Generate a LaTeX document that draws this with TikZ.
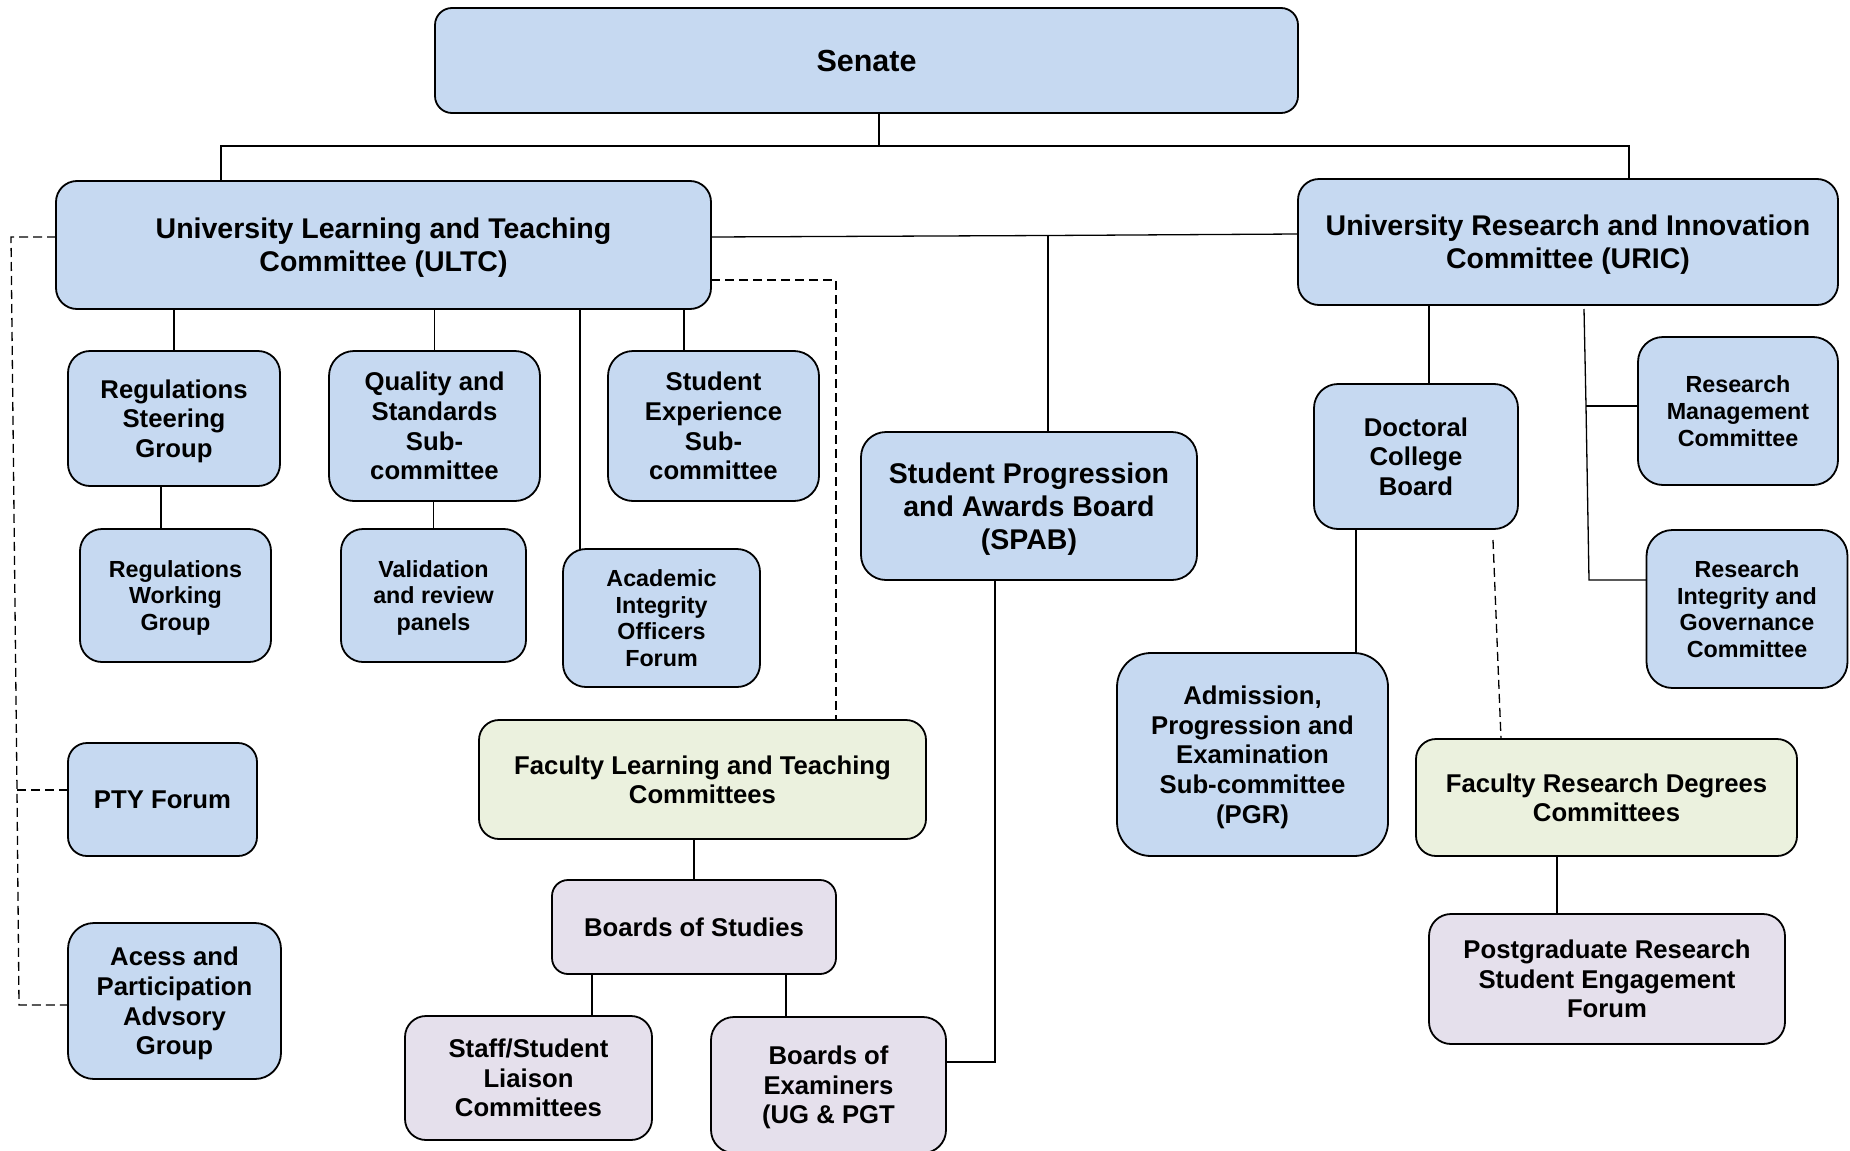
\documentclass[tikz,border=0pt]{standalone}
\usepackage{fontspec}
\setmainfont{Liberation Sans}
\definecolor{bxblue}{HTML}{C6D9F1}
\definecolor{bxgreen}{HTML}{EBF1DE}
\definecolor{bxlav}{HTML}{E5E0EC}
\tikzset{
  box/.style={draw=black, line width=1.8pt, fill=bxblue, align=center, inner sep=0pt, outer sep=0pt,
    text depth=0pt, font=\bfseries\fontsize{25.7}{29.6}\selectfont},
  bigtxt/.style={font=\bfseries\fontsize{28.5}{32.8}\selectfont},
  smalltxt/.style={font=\bfseries\fontsize{23.3}{26.8}\selectfont},
  greenbox/.style={fill=bxgreen},
  lavbox/.style={fill=bxlav},
  conn/.style={line width=1.3pt},
  dconn/.style={line width=1.3pt, dash pattern=on 9pt off 5pt},
}
\begin{document}
\begin{tikzpicture}[x=1pt,y=-1pt]
\useasboundingbox (0,0) rectangle (1850,1151);
% boxes
\node[box, font=\bfseries\fontsize{30.5}{35}\selectfont, minimum width=863pt, minimum height=105pt, rounded corners=17pt] (senate) at (866.5,60.5) {Senate};
\node[box, bigtxt, minimum width=655pt, minimum height=128pt, rounded corners=21pt] (ultc) at (383.5,245) {University Learning and Teaching\\Committee (ULTC)};
\node[box, bigtxt, minimum width=540pt, minimum height=126pt, rounded corners=21pt] (uric) at (1568,242) {University Research and Innovation\\Committee (URIC)};
\node[box, minimum width=212pt, minimum height=135pt, rounded corners=22pt] (rsg) at (174,418.5) {Regulations\\Steering\\Group};
\node[box, minimum width=211pt, minimum height=150pt, rounded corners=25pt] (qss) at (434.5,426) {Quality and\\Standards\\Sub-\\committee};
\node[box, minimum width=211pt, minimum height=150pt, rounded corners=25pt] (ses) at (713.5,426) {Student\\Experience\\Sub-\\committee};
\node[box, smalltxt, minimum width=191pt, minimum height=133pt, rounded corners=22pt] (rwg) at (175.5,595.5) {Regulations\\Working\\Group};
\node[box, smalltxt, minimum width=185pt, minimum height=133pt, rounded corners=22pt] (vrp) at (433.5,595.5) {Validation\\and review\\panels};
\node[box, smalltxt, minimum width=197pt, minimum height=138pt, rounded corners=23pt] (aiof) at (661.5,618) {Academic\\Integrity\\Officers\\Forum};
\node[box, bigtxt, minimum width=336pt, minimum height=148pt, rounded corners=25pt] (spab) at (1029,506) {Student Progression\\and Awards Board\\(SPAB)};
\node[box, minimum width=189pt, minimum height=113pt, rounded corners=19pt] (pty) at (162.5,799.5) {PTY Forum};
\node[box, minimum width=213pt, minimum height=156pt, rounded corners=26pt] (apag) at (174.5,1001) {Acess and\\Participation\\Advsory\\Group};
\node[box, greenbox, minimum width=447pt, minimum height=119pt, rounded corners=20pt] (fltc) at (702.5,779.5) {Faculty Learning and Teaching\\Committees};
\node[box, lavbox, minimum width=284pt, minimum height=94pt, rounded corners=16pt] (bos) at (694,927) {Boards of Studies};
\node[box, lavbox, minimum width=247pt, minimum height=124pt, rounded corners=21pt] (sslc) at (528.5,1078) {Staff/Student\\Liaison\\Committees};
\node[box, lavbox, minimum width=235pt, minimum height=136pt, rounded corners=23pt] (boe) at (828.5,1085) {Boards of\\Examiners\\(UG \& PGT};
\node[box, minimum width=204pt, minimum height=145pt, rounded corners=24pt] (dcb) at (1416,456.5) {Doctoral\\College\\Board};
\node[box, smalltxt, minimum width=200pt, minimum height=148pt, rounded corners=25pt] (rmc) at (1738,411) {Research\\Management\\Committee};
\node[box, smalltxt, minimum width=201pt, minimum height=158pt, rounded corners=26pt] (rigc) at (1747,609) {Research\\Integrity and\\Governance\\Committee};
\node[box, minimum width=271pt, minimum height=203pt, rounded corners=34pt] (ape) at (1252.5,754.5) {Admission,\\Progression and\\Examination\\Sub-committee\\(PGR)};
\node[box, greenbox, minimum width=381pt, minimum height=117pt, rounded corners=20pt] (frdc) at (1606.5,797.5) {Faculty Research Degrees\\Committees};
\node[box, lavbox, minimum width=356pt, minimum height=130pt, rounded corners=22pt] (pgr) at (1607,979) {Postgraduate Research\\Student Engagement\\Forum};
% helper coordinates
\coordinate (h0) at (879,146);
\coordinate (h1) at (221,146);
\coordinate (h2) at (1629,146);
\coordinate (jl) at (711,237);
\coordinate (jr) at (1298,234);
\coordinate (sp) at (1048,235.5);
\coordinate (sb) at (995,1062);
\coordinate (xses) at (684,0);
\coordinate (xai) at (580,0);
\coordinate (xrwg) at (161,0);
\coordinate (xss) at (592,0);
\coordinate (xbe) at (786,0);
\coordinate (xdc) at (1429,0);
\coordinate (xap) at (1356,0);
\coordinate (xpg) at (1557,0);
\coordinate (r1) at (1584,309);
\coordinate (r2) at (1586,406);
\coordinate (r3) at (1589,580);
\coordinate (d1) at (11,237);
\coordinate (d2) at (17,790);
\coordinate (d3) at (19,1005);
\coordinate (e1) at (836,280);
\coordinate (f1) at (1493,540);
\coordinate (f2) at (1501,739);
% solid connectors
\draw[conn] (h0 |- senate.south) -- (h0);
\draw[conn] (ultc.north -| h1) -- (h1) -- (h2) -- (uric.north -| h2);
\draw[conn] (jl) -- (sp) -- (jr);
\draw[conn] (sp) -- (sp |- spab.north);
\draw[conn] (sb |- spab.south) -- (sb) -- (sb -| boe.east);
\draw[conn] (ultc.south -| rsg.north) -- (rsg.north);
\draw[conn] (ultc.south -| qss.north) -- (qss.north);
\draw[conn] (ultc.south -| xses) -- (ses.north -| xses);
\draw[conn] (ultc.south -| xai) -- (aiof.north -| xai);
\draw[conn] (rsg.south -| xrwg) -- (rwg.north -| xrwg);
\draw[conn] (qss.south -| vrp.north) -- (vrp.north);
\draw[conn] (fltc.south -| bos.north) -- (bos.north);
\draw[conn] (bos.south -| xss) -- (sslc.north -| xss);
\draw[conn] (bos.south -| xbe) -- (boe.north -| xbe);
\draw[conn] (uric.south -| xdc) -- (dcb.north -| xdc);
\draw[conn] (dcb.south -| xap) -- (ape.north -| xap);
\draw[conn] (r1) -- (r2) -- (r3) -- (r3 -| rigc.west);
\draw[conn] (r2) -- (r2 -| rmc.west);
\draw[conn] (frdc.south -| xpg) -- (pgr.north -| xpg);
% dashed connectors
\draw[dconn] (ultc.west |- d1) -- (d1) -- (d2) -- (d3) -- (d3 -| apag.west);
\draw[dconn] (d2) -- (d2 -| pty.west);
\draw[dconn] (ultc.east |- e1) -- (e1) -- (e1 |- fltc.north);
\draw[dconn] (f1) -- (f2);
\end{tikzpicture}
\end{document}
